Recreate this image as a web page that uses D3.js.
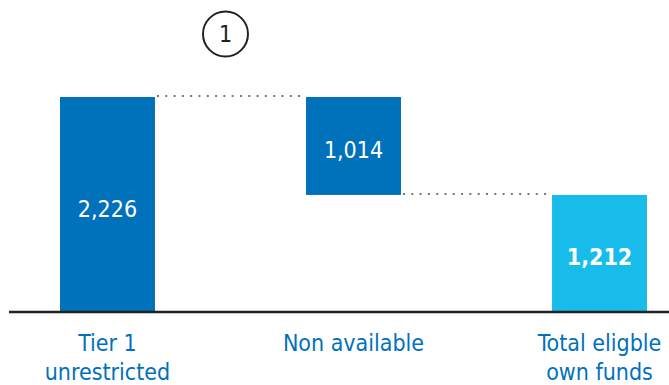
<!DOCTYPE html>
<html>
<head>
<meta charset="utf-8">
<script src="https://cdn.jsdelivr.net/npm/d3@7"></script>
<style>
  body { margin: 0; background: #fff; }
  text { font-family: "DejaVu Sans Condensed", "DejaVu Sans", sans-serif; }
</style>
</head>
<body>
<div id="chart"></div>
<script>
// data
const categories = ["Tier 1 unrestricted", "Non available", "Total eligble own funds"];
const labelLines = [["Tier 1", "unrestricted"], ["Non available"], ["Total eligble", "own funds"]];
const starts = [0, 1212, 0];     // bottom of each bar
const ends = [2226, 2226, 1212]; // top of each bar
const valueLabels = ["2,226", "1,014", "1,212"];
const barColors = ["#0071bb", "#0071bb", "#17bceb"];

const width = 669;
const height = 385;
const margin = { top: 97, right: 22, bottom: 73, left: 60 };

const svg = d3.select("#chart")
  .append("svg")
  .attr("width", width)
  .attr("height", height);

const xScale = d3.scaleBand()
  .domain(categories)
  .range([margin.left, width - margin.right])
  .paddingInner(0.614)
  .paddingOuter(0);

const yScale = d3.scaleLinear()
  .domain([0, d3.max(ends)])
  .range([height - margin.bottom, margin.top]);

// bars
svg.selectAll(".bar")
  .data(categories)
  .enter()
  .append("rect")
  .attr("class", "bar")
  .attr("x", d => xScale(d))
  .attr("y", (d, i) => yScale(ends[i]))
  .attr("width", xScale.bandwidth())
  .attr("height", (d, i) => yScale(starts[i]) - yScale(ends[i]))
  .attr("fill", (d, i) => barColors[i]);

// dotted connectors
const connectors = [
  { from: 0, to: 1, value: ends[0] },
  { from: 1, to: 2, value: starts[1] }
];
svg.selectAll(".connector")
  .data(connectors)
  .enter()
  .append("line")
  .attr("class", "connector")
  .attr("x1", d => xScale(categories[d.from]) + xScale.bandwidth() + 2)
  .attr("x2", d => xScale(categories[d.to]))
  .attr("y1", d => yScale(d.value) - 1)
  .attr("y2", d => yScale(d.value) - 1)
  .attr("stroke", "#777")
  .attr("stroke-width", 2)
  .attr("stroke-dasharray", "2,6.3");

// value labels
svg.selectAll(".label")
  .data(categories)
  .enter()
  .append("text")
  .attr("class", "label")
  .attr("x", d => xScale(d) + xScale.bandwidth() / 2)
  .attr("y", (d, i) => (yScale(starts[i]) + yScale(ends[i])) / 2 + 12)
  .attr("text-anchor", "middle")
  .attr("fill", "#fff")
  .attr("font-size", 23)
  .attr("font-weight", (d, i) => i === 2 ? "bold" : "normal")
  .text((d, i) => valueLabels[i]);

// baseline
svg.append("line")
  .attr("x1", 9)
  .attr("x2", width)
  .attr("y1", yScale(0))
  .attr("y2", yScale(0))
  .attr("stroke", "#222")
  .attr("stroke-width", 2.5);

// category labels
const cat = svg.selectAll(".cat")
  .data(categories)
  .enter()
  .append("text")
  .attr("class", "cat")
  .attr("x", d => xScale(d) + xScale.bandwidth() / 2)
  .attr("y", 351)
  .attr("text-anchor", "middle")
  .attr("fill", "#0071bb")
  .attr("font-size", 23);
cat.selectAll("tspan")
  .data((d, i) => labelLines[i])
  .enter()
  .append("tspan")
  .attr("x", function () { return d3.select(this.parentNode).attr("x"); })
  .attr("dy", (d, j) => j === 0 ? 0 : 29)
  .text(d => d);

// footnote marker
const note = svg.append("g")
  .attr("transform", `translate(${(xScale(categories[0]) + xScale.bandwidth() + xScale(categories[1])) / 2 - 5}, 34)`);
note.append("circle")
  .attr("r", 22.5)
  .attr("fill", "none")
  .attr("stroke", "#222")
  .attr("stroke-width", 2);
note.append("text")
  .attr("text-anchor", "middle")
  .attr("y", 8)
  .attr("font-size", 23)
  .attr("fill", "#222")
  .text("1");
</script>
</body>
</html>
